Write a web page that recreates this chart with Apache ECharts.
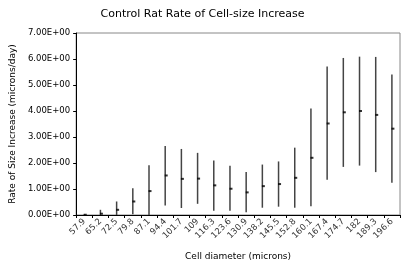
<!DOCTYPE html>
<html>
<head>
<meta charset="utf-8">
<script src="https://cdn.jsdelivr.net/npm/echarts@6/dist/echarts.min.js"></script>
<style>
  html, body { margin: 0; padding: 0; background: #fff; }
  #chart { width: 405px; height: 266px; }
</style>
</head>
<body>
<div id="chart"></div>
<script>
const categories = ['57.9', '65.2', '72.5', '79.8', '87.1', '94.4', '101.7', '109', '116.3', '123.6',
  '130.9', '138.2', '145.5', '152.8', '160.1', '167.4', '174.7', '182', '189.3', '196.6'];
const meanRate = [0.01, 0.05, 0.2, 0.52, 0.92, 1.52, 1.39, 1.4, 1.14, 1.01,
  0.87, 1.11, 1.19, 1.43, 2.2, 3.52, 3.95, 4.0, 3.85, 3.32];
const lowRate = [0, 0, 0, 0.03, 0, 0.37, 0.27, 0.43, 0.16, 0.16,
  0.11, 0.28, 0.32, 0.28, 0.34, 1.36, 1.85, 1.9, 1.65, 1.24];
const highRate = [0.02, 0.2, 0.52, 1.03, 1.91, 2.65, 2.54, 2.39, 2.1, 1.89,
  1.65, 1.94, 2.06, 2.59, 4.1, 5.71, 6.04, 6.09, 6.08, 5.4];
const yTicks = [0, 1, 2, 3, 4, 5, 6, 7];

const chart = echarts.init(document.getElementById('chart'));
const font = 'DejaVu Sans';

chart.setOption({
  animation: false,
  title: {
    text: 'Control Rat Rate of Cell-size Increase',
    left: 'center',
    top: 4,
    textStyle: { fontFamily: font, fontSize: 11, fontWeight: 'normal', color: '#000' }
  },
  grid: { left: 64, right: 5, top: 33, bottom: 49, show: true, borderColor: '#888', borderWidth: 1 },
  xAxis: {
    type: 'category',
    data: categories,
    boundaryGap: true,
    name: 'Cell diameter (microns)',
    nameLocation: 'middle',
    nameGap: 37,
    nameTextStyle: { fontFamily: font, fontSize: 9, color: '#000' },
    axisLine: { lineStyle: { color: '#000', width: 1 } },
    axisTick: { show: true, length: 3, lineStyle: { color: '#000' } },
    axisLabel: { fontFamily: font, fontSize: 8.5, color: '#333', rotate: 45, interval: 0, margin: 5 }
  },
  yAxis: {
    type: 'value',
    min: 0,
    max: 7,
    interval: 1,
    name: 'Rate of Size Increase (microns/day)',
    nameLocation: 'middle',
    nameGap: 55,
    nameTextStyle: { fontFamily: font, fontSize: 9, color: '#000' },
    axisLine: { show: true, lineStyle: { color: '#000', width: 1 } },
    axisTick: { show: true, length: 3, lineStyle: { color: '#000' } },
    splitLine: { show: false },
    axisLabel: {
      fontFamily: font, fontSize: 8.5, color: '#000', margin: 6,
      formatter: v => yTicks.includes(v) ? v.toFixed(2) + 'E+00' : ''
    }
  },
  series: [
    {
      type: 'custom',
      data: categories.map((c, i) => [i, lowRate[i], highRate[i]]),
      renderItem: (params, api) => {
        const top = api.coord([api.value(0), api.value(2)]);
        const bot = api.coord([api.value(0), api.value(1)]);
        return {
          type: 'line',
          shape: { x1: top[0], y1: top[1], x2: bot[0], y2: bot[1] },
          style: { stroke: '#444', lineWidth: 1.5 }
        };
      },
      z: 2
    },
    {
      type: 'scatter',
      data: categories.map((c, i) => [i, meanRate[i]]),
      symbol: 'rect',
      symbolSize: [3, 2],
      symbolOffset: [1, 0],
      itemStyle: { color: '#000' },
      z: 3
    }
  ]
});
</script>
</body>
</html>
